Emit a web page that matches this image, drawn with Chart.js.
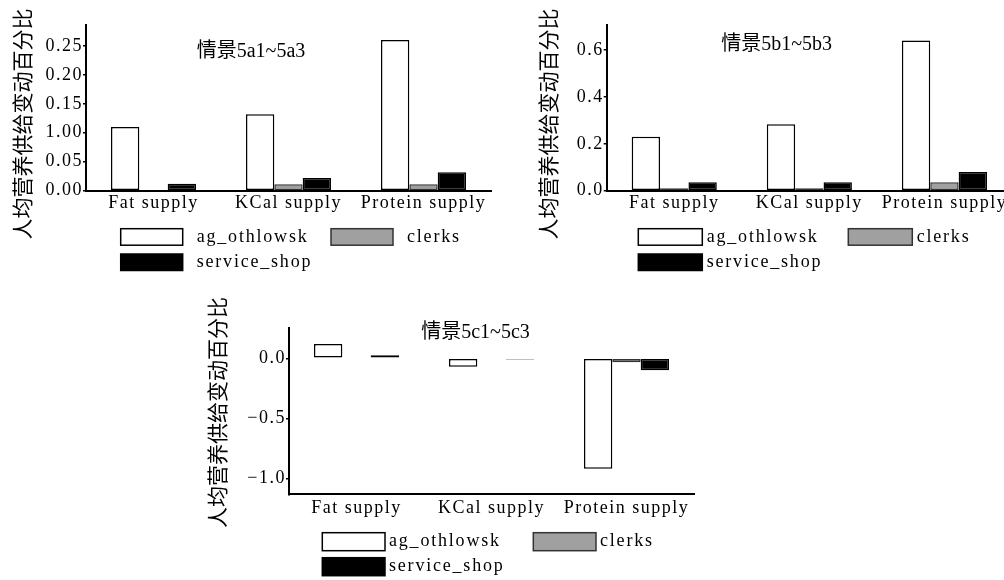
<!DOCTYPE html>
<html><head><meta charset="utf-8">
<script src="https://cdn.jsdelivr.net/npm/chart.js@4.4.1/dist/chart.umd.min.js"></script>
<style>
html,body{margin:0;padding:0;background:#fff;overflow:hidden;width:1004px;height:580px;position:relative;}
canvas{position:absolute;}
</style></head><body>
<canvas id="cA" width="500" height="290" style="left:0;top:0"></canvas>
<canvas id="cB" width="512" height="290" style="left:500px;top:0"></canvas>
<canvas id="cC" width="520" height="290" style="left:190px;top:290px"></canvas>
<script>
const categories = ['Fat supply', 'KCal supply', 'Protein supply'];
const seriesNames = ['ag_othlowsk', 'clerks', 'service_shop'];
const yAxisTitle = '人均营养供给变动百分比';

// 情景5a1~5a3
const titleA = '情景5a1~5a3';
const agA = [0.11, 0.132, 0.26];
const clerksA = [0, 0.011, 0.011];
const serviceA = [0.012, 0.022, 0.032];
const ticksA = [0, 0.05, 0.10, 0.15, 0.20, 0.25];
const tickLabelsA = ['0.00', '0.05', '1.00', '0.15', '0.20', '0.25'];

// 情景5b1~5b3
const titleB = '情景5b1~5b3';
const agB = [0.23, 0.283, 0.641];
const clerksB = [0.01, 0.01, 0.036];
const serviceB = [0.036, 0.036, 0.08];
const ticksB = [0, 0.2, 0.4, 0.6];
const tickLabelsB = ['0.0', '0.2', '0.4', '0.6'];

// 情景5c1~5c3
const titleC = '情景5c1~5c3';
const agC = [0.12, -0.07, -0.92];
const clerksC = [0, 0, -0.033];
const serviceC = [0.025, -0.01, -0.10];
const ticksC = [-1.0, -0.5, 0.0];
const tickLabelsC = ['\u22121.0', '\u22120.5', '0.0'];

const fills = ['#ffffff', '#a0a0a0', '#000000'];
const borders = ['#000000', '#333333', '#000000'];
const SERIF = '"Liberation Serif", "Times New Roman", serif';

Chart.defaults.color = '#000';
Chart.defaults.font.family = SERIF;

const decor = {
  id: 'decor',
  beforeUpdate(chart) { chart.ctx.letterSpacing = '1.5px'; },
  beforeDraw(chart) { chart.ctx.letterSpacing = '1.5px'; },
  afterDraw(chart, args, o) {
    const ctx = chart.ctx;
    ctx.save();
    ctx.fillStyle = '#000';
    ctx.letterSpacing = '0px';
    ctx.textAlign = 'center';
    ctx.textBaseline = 'middle';
    ctx.font = '20px "Liberation Serif", "Noto Sans CJK SC", serif';
    ctx.fillText(o.title, o.titleX, o.titleY);
    ctx.save();
    ctx.translate(o.yLabelX, o.yLabelY);
    ctx.rotate(-Math.PI / 2);
    ctx.font = '21px "Noto Sans CJK SC"';
    ctx.fillText(yAxisTitle, 0, 0);
    ctx.restore();
    // legend
    const slots = [[0, 0], [1, 0], [0, 1]];
    ctx.textAlign = 'left';
    ctx.letterSpacing = '1.8px';
    ctx.font = '18px ' + SERIF;
    chart.data.datasets.forEach((ds, i) => {
      const [c, r] = slots[i];
      const x = o.legX[c], y = o.legY[r];
      ctx.fillStyle = ds.backgroundColor;
      ctx.fillRect(x, y, o.boxW, o.boxH);
      ctx.lineWidth = 1.5;
      ctx.strokeStyle = ds.borderColor;
      ctx.strokeRect(x, y, o.boxW, o.boxH);
      ctx.fillStyle = '#000';
      ctx.fillText(ds.label, x + o.boxW + o.gap, y + o.boxH / 2);
    });
    ctx.restore();
  }
};

function makeChart(id, series, ticks, labels, min, max, lay, deco) {
  return new Chart(document.getElementById(id), {
    type: 'bar',
    data: {
      labels: categories,
      datasets: series.map((d, i) => ({
        label: seriesNames[i],
        data: d,
        backgroundColor: fills[i],
        borderColor: borders[i],
        borderWidth: 1.5,
        borderSkipped: false,
        categoryPercentage: 0.63,
        barPercentage: 1.0
      }))
    },
    options: {
      responsive: false,
      animation: false,
      devicePixelRatio: 1,
      layout: { padding: lay.padding },
      plugins: { legend: { display: false }, tooltip: { enabled: false }, decor: deco },
      scales: {
        x: {
          grid: { display: false, drawTicks: false },
          border: { display: true, color: '#000', width: 2 },
          ticks: { font: { size: 18, family: SERIF }, padding: lay.xPad, maxRotation: 0, autoSkip: false },
          afterFit: s => { s.height = lay.xH; }
        },
        y: {
          min: min, max: max,
          grid: { display: true, drawOnChartArea: false, drawTicks: true, tickLength: 3, color: '#000', lineWidth: 1.5 },
          border: { display: true, color: '#000', width: 2 },
          ticks: { font: { size: 18, family: SERIF }, padding: 0, callback: (v, i) => labels[i] },
          afterBuildTicks: s => { s.ticks = ticks.map(v => ({ value: v })); },
          afterFit: s => { s.width = lay.yW; }
        }
      }
    },
    plugins: [decor]
  });
}

makeChart('cA', [agA, clerksA, serviceA], ticksA, tickLabelsA, 0, 0.286,
  { padding: { left: 0, top: 25, right: 9, bottom: 0 }, xH: 99.3, yW: 86, xPad: 2 },
  { title: titleA, titleX: 251, titleY: 51.7, yLabelX: 21.7, yLabelY: 124,
    legX: [120.7, 331], legY: [228.7, 254], boxW: 62, boxH: 16.5, gap: 14 });

makeChart('cB', [agB, clerksB, serviceB], ticksB, tickLabelsB, 0, 0.707,
  { padding: { left: 0, top: 25, right: 0, bottom: 0 }, xH: 99.3, yW: 106.7, xPad: 2 },
  { title: titleB, titleX: 276.7, titleY: 45, yLabelX: 48.3, yLabelY: 124,
    legX: [138.3, 348.3], legY: [228.7, 254], boxW: 64, boxH: 16.5, gap: 4.4 });

makeChart('cC', [agC, clerksC, serviceC], ticksC, tickLabelsC, -1.133, 0.25,
  { padding: { left: 0, top: 38.3, right: 16, bottom: 0 }, xH: 85.7, yW: 99, xPad: 3 },
  { title: titleC, titleX: 285.5, titleY: 42.7, yLabelX: 27.4, yLabelY: 122.5,
    legX: [132.3, 343.3], legY: [242.7, 267.7], boxW: 62.7, boxH: 18, gap: 4 });
</script>
</body></html>
